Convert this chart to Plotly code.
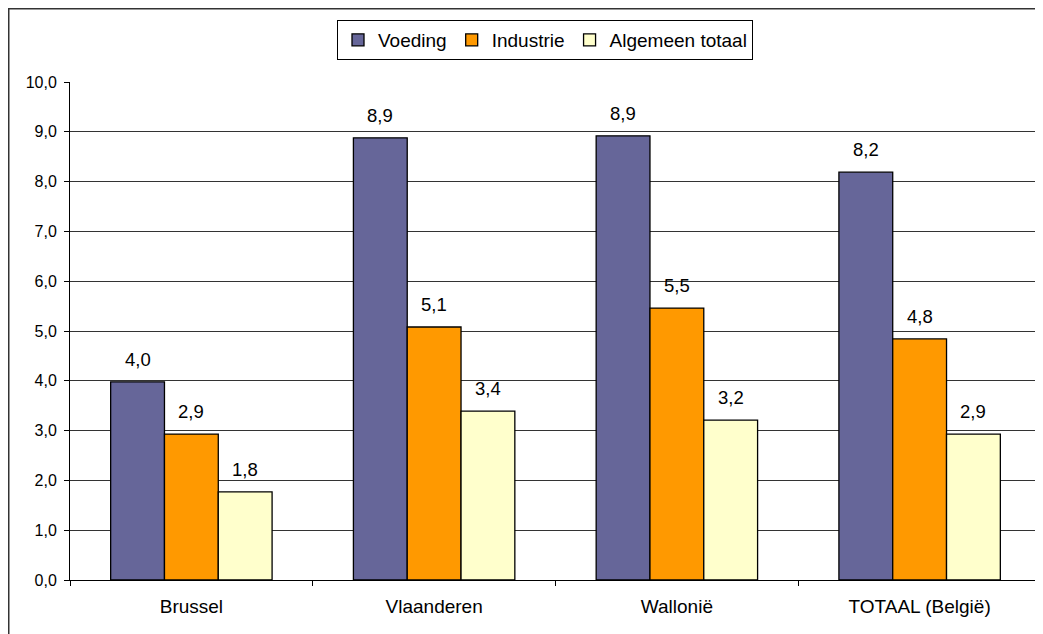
import plotly.graph_objects as go

categories = ["Brussel", "Vlaanderen", "Wallonië", "TOTAAL (België)"]
voeding = [3.98, 8.88, 8.92, 8.19]
industrie = [2.93, 5.08, 5.46, 4.84]
algemeen = [1.77, 3.39, 3.21, 2.93]
series_names = ["Voeding", "Industrie", "Algemeen totaal"]
colors = ["#666699", "#FF9900", "#FFFFCC"]
y_ticks = [0, 1, 2, 3, 4, 5, 6, 7, 8, 9, 10]

FONT = "Liberation Sans, Arial, sans-serif"
W, H = 1035, 626          # page body has an 8px margin
L, R, T, B = 62, 2, 74, 54
pw = W - L - R
ph = H - T - B
BARGAP = 0.335
bar_px = pw / len(categories) * (1 - BARGAP) / len(series_names)

def px(x):
    return (x - L) / pw

def py(y):
    return 1 - (y - T) / ph

fig = go.Figure()
annotations = []
all_series = [voeding, industrie, algemeen]
for i, (name, vals, col) in enumerate(zip(series_names, all_series, colors)):
    fig.add_trace(go.Bar(
        x=categories, y=vals, name=name,
        marker=dict(color=col, line=dict(color="black", width=1.3)),
    ))
    for c, v in zip(categories, vals):
        annotations.append(dict(
            x=c, y=v, xref="x", yref="y",
            text=f"{v:.1f}".replace(".", ","),
            showarrow=False, yanchor="bottom", xanchor="center",
            xshift=(i - 1) * bar_px, yshift=10,
            font=dict(size=18.5, color="black", family=FONT),
        ))

fig.update_layout(
    width=W, height=H,
    margin=dict(l=L, r=R, t=T, b=B),
    paper_bgcolor="white", plot_bgcolor="white",
    separators=",.",
    barmode="group", bargap=BARGAP, bargroupgap=0,
    font=dict(family=FONT, size=17, color="black"),
    showlegend=True,
    legend=dict(
        orientation="h", x=px(537), xanchor="center", y=py(12), yanchor="top",
        bordercolor="black", borderwidth=1, bgcolor="white",
        font=dict(size=19), itemwidth=30, traceorder="normal",
        tracegroupgap=0,
    ),
    xaxis=dict(
        showline=True, linecolor="black", linewidth=1,
        ticks="outside", tickson="boundaries", ticklen=5, tickcolor="black",
        tickfont=dict(size=19), showgrid=False, ticklabelstandoff=9,
    ),
    yaxis=dict(
        range=[0, 10], tickvals=y_ticks, tickformat=".1f",
        showline=True, linecolor="black", linewidth=1,
        ticks="outside", ticklen=5, tickcolor="black",
        showgrid=True, gridcolor="#333333", gridwidth=1,
        tickfont=dict(size=16), zeroline=False, ticklabelstandoff=4,
    ),
    annotations=annotations,
    shapes=[
        dict(type="rect", xref="paper", yref="paper",
             x0=px(0.75), x1=px(1100), y0=py(800), y1=py(0.75),
             line=dict(color="#333333", width=1.5), layer="below"),
        dict(type="line", xref="paper", yref="paper",
             x0=1, x1=1, y0=0, y1=1, line=dict(color="#444444", width=1)),
    ],
)

fig.write_html("out.html")
